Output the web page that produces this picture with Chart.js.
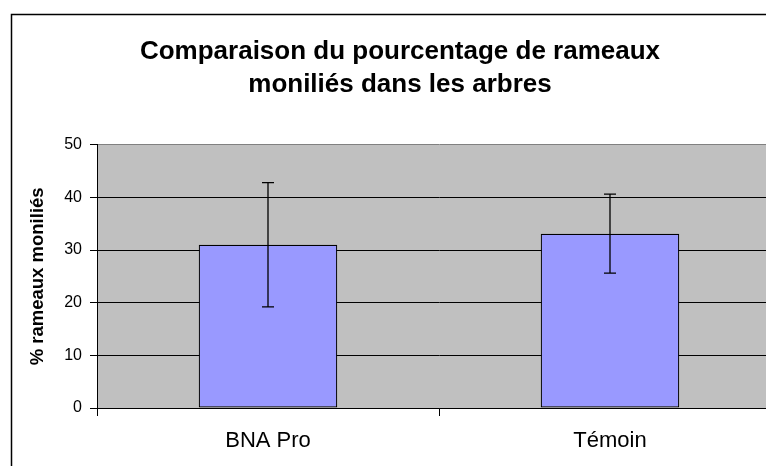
<!DOCTYPE html>
<html>
<head>
<meta charset="utf-8">
<script src="https://cdn.jsdelivr.net/npm/chart.js@4.4.1/dist/chart.umd.min.js"></script>
<style>
  html, body { margin: 0; padding: 0; background: #fff; overflow: hidden; width: 766px; height: 466px; }
  canvas { display: block; }
</style>
</head>
<body>
<canvas id="c" width="800" height="466"></canvas>
<script>
const categories = ["BNA Pro", "Témoin"];
const meanValues = [31.0, 33.1];
const errorValues = [11.8, 7.5];
const yTicks = [0, 10, 20, 30, 40, 50];
const titleLines = ["Comparaison du pourcentage de rameaux", "moniliés dans les arbres"];
const yTitle = "% rameaux moniliés";

const FONT = "'Liberation Sans', Arial, Helvetica, sans-serif";

const backgroundPlugin = {
  id: 'bgAndBorder',
  beforeDraw(chart) {
    const ctx = chart.ctx;
    const a = chart.chartArea;
    ctx.save();
    ctx.fillStyle = '#ffffff';
    ctx.fillRect(0, 0, chart.width, chart.height);
    ctx.fillStyle = '#C0C0C0';
    ctx.fillRect(a.left, a.top, a.right - a.left, a.bottom - a.top);
    ctx.strokeStyle = '#000000';
    ctx.lineWidth = 1.5;
    ctx.strokeRect(11.5, 14.5, 778, 520);
    ctx.restore();
  }
};

const errorBarPlugin = {
  id: 'errorBars',
  afterDatasetsDraw(chart) {
    const ctx = chart.ctx;
    const meta = chart.getDatasetMeta(0);
    const yScale = chart.scales.y;
    ctx.save();
    ctx.strokeStyle = '#000000';
    ctx.lineWidth = 1.3;
    meta.data.forEach((bar, i) => {
      const x = bar.x;
      const yTop = yScale.getPixelForValue(meanValues[i] + errorValues[i]);
      const yBot = yScale.getPixelForValue(meanValues[i] - errorValues[i]);
      ctx.beginPath();
      ctx.moveTo(x, yTop); ctx.lineTo(x, yBot);
      ctx.moveTo(x - 6, yTop); ctx.lineTo(x + 6, yTop);
      ctx.moveTo(x - 6, yBot); ctx.lineTo(x + 6, yBot);
      ctx.stroke();
    });
    ctx.restore();
  }
};

new Chart(document.getElementById('c'), {
  type: 'bar',
  data: {
    labels: categories,
    datasets: [{
      data: meanValues,
      backgroundColor: '#9999FF',
      borderColor: '#000000',
      borderWidth: 1.2,
      borderSkipped: false,
      categoryPercentage: 1.0,
      barPercentage: 0.405
    }]
  },
  options: {
    responsive: false,
    animation: false,
    devicePixelRatio: 1,
    layout: { padding: { left: 19, right: 19, top: 0, bottom: 0 } },
    plugins: {
      legend: { display: false },
      tooltip: { enabled: false },
      title: {
        display: true,
        text: titleLines,
        color: '#000000',
        font: { family: FONT, size: 26, weight: 'bold', lineHeight: 1.24 },
        padding: { top: 36, bottom: 44.2 }
      }
    },
    scales: {
      x: {
        offset: true,
        grid: {
          offset: true,
          drawOnChartArea: false,
          drawTicks: true,
          tickLength: 8,
          tickColor: '#000000',
          tickWidth: 1
        },
        border: { display: true, color: '#000000', width: 1 },
        ticks: {
          color: '#000000',
          font: { family: FONT, size: 22 },
          padding: 12,
          maxRotation: 0
        },
        afterFit(axis) { axis.height = 58; }
      },
      y: {
        min: 0,
        max: 50,
        afterBuildTicks(axis) { axis.ticks = yTicks.map(v => ({ value: v })); },
        grid: {
          color: (ctx) => (ctx.tick && ctx.tick.value === 50) ? '#808080' : '#000000',
          lineWidth: 1,
          drawTicks: true,
          tickLength: 7,
          tickColor: '#000000',
          tickWidth: 1
        },
        border: { display: true, color: '#000000', width: 1 },
        ticks: {
          color: '#000000',
          font: { family: FONT, size: 16 },
          padding: 8
        },
        title: {
          display: true,
          text: yTitle,
          color: '#000000',
          font: { family: FONT, size: 18.5, weight: 'bold', lineHeight: 1.2 },
          padding: { top: 8, bottom: 0 }
        },
        afterFit(axis) { axis.width = 78; }
      }
    }
  },
  plugins: [backgroundPlugin, errorBarPlugin]
});
</script>
</body>
</html>
